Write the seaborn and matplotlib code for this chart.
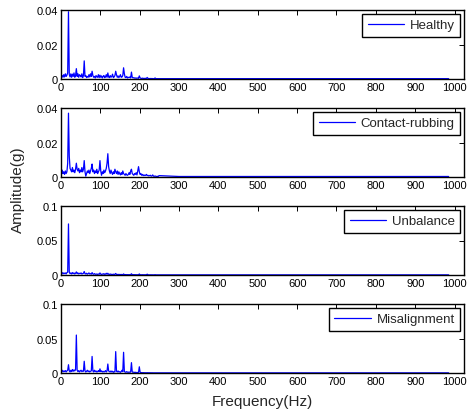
import numpy as np
import pandas as pd
import matplotlib
matplotlib.use("Agg")
import matplotlib.pyplot as plt
import seaborn as sns

# ---- data (amplitudes in units of 1e-3 g) ----
# frequency grid: 1, 3, 5, ..., 249 Hz, then two tail points
freq_low = list(range(1, 250, 2))
freq_tail = [300, 985]
freq = freq_low + freq_tail

healthy = [
    1.5, 2.0, 1.0, 2.5, 1.2, 3.0, 1.5, 2.2, 3.5, 39.0,
    2.5, 1.2, 3.0, 1.0, 2.8, 1.5, 3.5, 1.0, 2.0, 6.0,
    1.5, 3.0, 1.0, 2.5, 2.0, 1.2, 3.0, 0.8, 2.0, 10.5,
    1.5, 2.0, 0.8, 1.5, 1.0, 2.5, 1.2, 3.0, 1.5, 4.5,
    2.0, 1.0, 1.5, 0.6, 2.0, 1.2, 1.0, 2.5, 0.8, 2.2,
    1.0, 1.8, 0.6, 1.5, 2.0, 0.8, 1.2, 2.5, 1.0, 3.5,
    1.2, 0.8, 2.0, 1.0, 1.5, 2.8, 0.8, 1.2, 2.0, 4.5,
    2.5, 1.0, 1.8, 0.8, 1.5, 2.5, 1.0, 1.2, 2.0, 6.5,
    3.0, 1.0, 0.8, 1.5, 0.6, 1.0, 0.8, 1.2, 0.6, 4.0,
    1.0, 0.6, 0.8, 0.5, 0.6, 0.4, 0.6, 0.5, 0.4, 1.8,
    0.6, 0.4, 0.3, 0.5, 0.3, 0.4, 0.3, 0.4, 0.3, 0.9,
    0.3, 0.3, 0.2, 0.3, 0.2, 0.3, 0.2, 0.2, 0.2, 0.6,
    0.2, 0.2, 0.2, 0.2, 0.2,
    0.2, 0.2,
]

rubbing = [
    1.5, 4.0, 2.0, 3.0, 1.5, 3.5, 2.0, 3.0, 8.0, 37.0,
    12.0, 5.0, 4.0, 3.0, 5.5, 3.0, 4.0, 2.5, 4.5, 8.0,
    4.5, 3.5, 5.0, 2.5, 4.0, 3.0, 5.5, 3.0, 4.5, 9.5,
    3.0, 0.5, 2.0, 3.5, 2.5, 4.0, 2.0, 3.5, 5.0, 7.5,
    3.0, 4.0, 2.0, 3.5, 2.5, 4.5, 2.0, 3.0, 4.0, 9.5,
    3.5, 1.0, 3.0, 2.0, 4.0, 2.5, 3.5, 5.0, 8.0, 13.5,
    6.0, 3.5, 2.0, 4.0, 2.5, 1.5, 3.0, 2.0, 4.5, 3.0,
    2.0, 3.5, 1.5, 3.0, 2.0, 1.2, 2.5, 1.5, 3.5, 2.0,
    1.5, 1.0, 2.0, 1.2, 1.0, 1.5, 2.5, 1.5, 3.5, 4.5,
    2.0, 1.5, 1.0, 2.0, 1.5, 2.5, 1.2, 3.5, 6.0, 3.0,
    1.5, 2.0, 1.0, 1.5, 0.8, 1.2, 0.8, 1.0, 1.5, 0.8,
    1.0, 0.6, 0.8, 1.0, 0.5, 0.6, 1.2, 0.5, 0.4, 0.6,
    0.4, 0.3, 0.4, 0.3, 0.8,
    0.3, 0.3,
]

unbalance = [
    2.0, 3.5, 1.5, 3.0, 2.0, 3.0, 1.5, 3.5, 4.0, 74.0,
    4.0, 2.0, 3.0, 1.5, 3.5, 2.0, 3.0, 1.5, 2.5, 4.5,
    2.0, 3.0, 1.5, 2.5, 2.0, 3.0, 1.5, 2.0, 2.5, 5.0,
    2.0, 1.5, 2.5, 1.2, 2.0, 3.0, 1.5, 2.0, 1.2, 3.5,
    1.5, 1.0, 2.0, 1.2, 1.0, 1.5, 0.8, 1.5, 1.0, 3.0,
    1.2, 0.8, 1.5, 1.0, 2.0, 0.8, 1.2, 2.5, 1.0, 2.5,
    1.0, 0.8, 1.5, 0.8, 1.0, 0.6, 1.2, 0.8, 1.0, 2.2,
    0.8, 0.6, 1.0, 0.5, 0.8, 0.6, 0.8, 0.5, 0.6, 1.5,
    0.6, 0.5, 0.6, 0.4, 0.5, 0.4, 0.5, 0.4, 0.5, 1.8,
    0.5, 0.4, 0.5, 0.4, 0.4, 0.3, 0.4, 0.3, 0.4, 1.5,
    0.4, 0.3, 0.3, 0.4, 0.3, 0.3, 0.3, 0.3, 0.3, 1.2,
    0.3, 0.3, 0.2, 0.3, 0.2, 0.3, 0.2, 0.2, 0.2, 0.4,
    0.2, 0.2, 0.2, 0.2, 0.2,
    0.2, 0.2,
]

misalignment = [
    2.0, 4.0, 1.5, 3.0, 2.0, 3.5, 1.5, 3.0, 4.0, 12.0,
    3.0, 1.5, 4.0, 2.0, 5.0, 2.5, 4.5, 3.0, 5.0, 55.0,
    4.0, 2.0, 3.5, 1.5, 3.0, 4.0, 2.0, 3.0, 2.5, 17.0,
    3.0, 1.5, 2.5, 4.0, 2.0, 3.0, 1.5, 2.5, 3.0, 24.0,
    3.0, 1.5, 4.0, 2.0, 3.0, 1.5, 2.0, 3.5, 2.0, 6.0,
    2.0, 3.0, 1.5, 2.5, 1.5, 2.0, 3.5, 1.5, 3.0, 13.0,
    3.0, 2.0, 1.5, 3.0, 1.5, 2.5, 1.0, 2.0, 1.5, 31.0,
    2.5, 1.5, 3.0, 1.5, 2.0, 1.0, 2.0, 4.0, 2.0, 30.0,
    2.0, 1.5, 1.0, 2.0, 1.2, 1.0, 1.5, 1.0, 1.5, 15.0,
    1.5, 1.0, 1.2, 0.8, 1.0, 0.8, 0.6, 0.8, 1.0, 9.0,
    1.0, 0.6, 0.5, 0.4, 0.5, 0.3, 0.4, 0.3, 0.3, 0.4,
    0.3, 0.3, 0.3, 0.3, 0.2, 0.3, 0.2, 0.2, 0.2, 0.2,
    0.2, 0.2, 0.2, 0.2, 0.2,
    0.2, 0.2,
]

conditions = ["Healthy", "Contact-rubbing", "Unbalance", "Misalignment"]
series = [healthy, rubbing, unbalance, misalignment]
y_limits = [0.04, 0.04, 0.1, 0.1]
y_ticks = [[0, 0.02, 0.04], [0, 0.02, 0.04], [0, 0.05, 0.1], [0, 0.05, 0.1]]
y_ticklabels = [["0", "0.02", "0.04"], ["0", "0.02", "0.04"],
                ["0", "0.05", "0.1"], ["0", "0.05", "0.1"]]
x_ticks = [0, 100, 200, 300, 400, 500, 600, 700, 800, 900, 1000]

# ---- style ----
sns.set_style("white")
plt.rcParams["font.family"] = ["Liberation Sans", "DejaVu Sans"]
plt.rcParams["xtick.direction"] = "in"
plt.rcParams["ytick.direction"] = "in"

fig = plt.figure(figsize=(4.72, 4.14), dpi=100)

W, H = 472.0, 414.0
left_px, right_px = 61, 464
bottoms_px = [80, 178, 276, 374]
height_px = 69

for i, (name, amp) in enumerate(zip(conditions, series)):
    ax = fig.add_axes([left_px / W, 1 - bottoms_px[i] / H,
                       (right_px - left_px) / W, height_px / H])
    df = pd.DataFrame({"Frequency": freq, "Amplitude": np.array(amp) * 1e-3})
    sns.lineplot(data=df, x="Frequency", y="Amplitude", ax=ax,
                 color="#0000ff", linewidth=0.9, label=name, estimator=None,
                 sort=False)
    ax.set_xlim(0, 1024)
    ax.set_ylim(0, y_limits[i])
    ax.set_xticks(x_ticks)
    ax.set_xticklabels([str(t) for t in x_ticks])
    ax.set_yticks(y_ticks[i])
    ax.set_yticklabels(y_ticklabels[i])
    ax.set_xlabel("")
    ax.set_ylabel("")
    ax.tick_params(axis="both", labelsize=8, length=3.5, width=0.7,
                   top=True, right=True, pad=2, colors="black")
    for s in ax.spines.values():
        s.set_visible(True)
        s.set_color("black")
        s.set_linewidth(1.0)
    leg = ax.legend(loc="upper right", fontsize=9.5, frameon=True,
                    fancybox=False, borderaxespad=0.3, handlelength=2.8,
                    handletextpad=0.4, borderpad=0.4)
    leg.get_frame().set_edgecolor("black")
    leg.get_frame().set_linewidth(1.0)
    leg.get_frame().set_alpha(1.0)

fig.text(18 / W, 1 - 190 / H, "Amplitude(g)", rotation=90,
         ha="center", va="center", fontsize=11)
fig.text(262 / W, 1 - 402 / H, "Frequency(Hz)", ha="center", va="center",
         fontsize=11)

fig.savefig("out.png", dpi=100)
